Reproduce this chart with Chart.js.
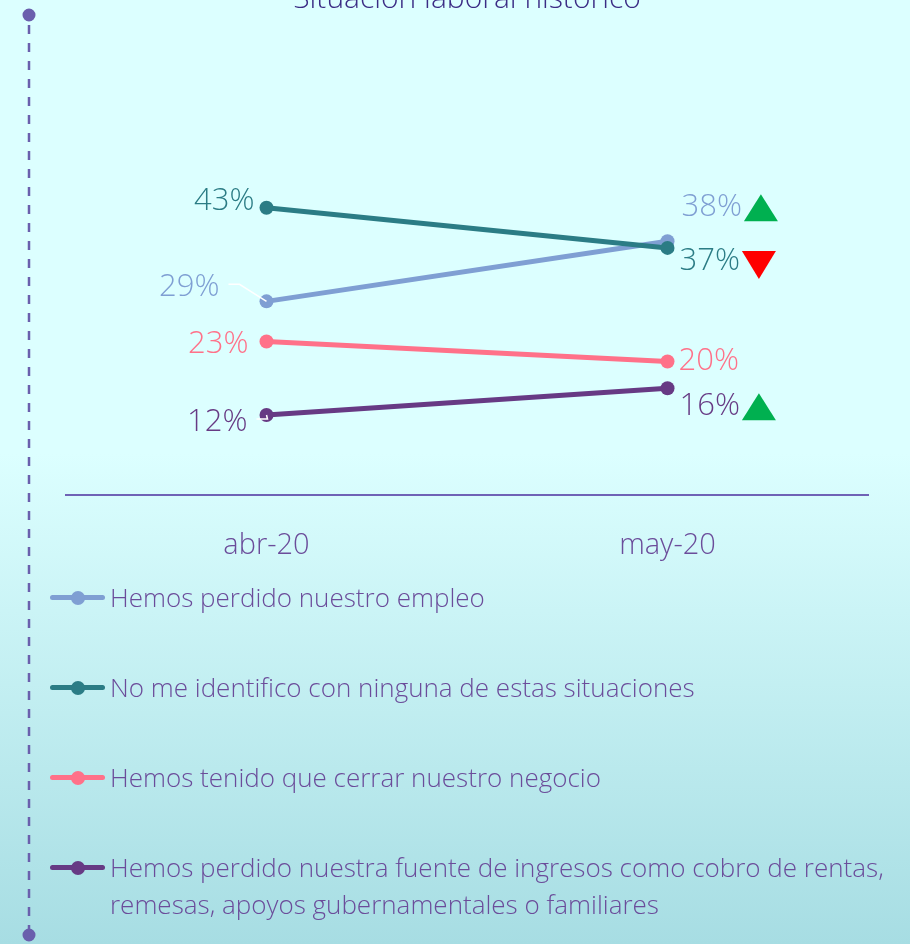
<!DOCTYPE html>
<html lang="es">
<head>
<meta charset="utf-8">
<title>Situación laboral histórico</title>
<script src="https://cdn.jsdelivr.net/npm/chart.js@4.4.1/dist/chart.umd.min.js"></script>
<style>
  html, body { margin: 0; padding: 0; }
  body {
    width: 910px; height: 944px; overflow: hidden; position: relative;
    background: linear-gradient(to bottom, #dcffff 0%, #dcffff 48%, #a7dde3 100%);
    font-family: 'Open Sans', sans-serif;
  }
  #contenedor { position: absolute; left: 0; top: -40px; width: 910px; height: 984px; }
  #leyenda {
    position: absolute; left: 50px; top: 579px; width: 850px;
    color: #6b4c9a; font-size: 26px; font-weight: 300; line-height: 37px;
  }
  .item { display: flex; align-items: flex-start; margin-bottom: 53px; }
  .marca { position: relative; width: 55px; height: 37px; flex: none; margin-right: 5px; }
  .marca .linea { position: absolute; left: 0; right: 0; top: 16px; height: 5px; border-radius: 3px; }
  .marca .punto { position: absolute; left: 21px; top: 11.5px; width: 14px; height: 14px; border-radius: 50%; }
  .texto { width: 785px; }
</style>
</head>
<body>
<div id="contenedor"><canvas id="grafico" width="910" height="984"></canvas></div>
<div id="leyenda"></div>
<script>
// meses (eje x)
var meses = ['abr-20', 'may-20'];

// nombres de las series
var series = [
  'Hemos perdido nuestro empleo',
  'No me identifico con ninguna de estas situaciones',
  'Hemos tenido que cerrar nuestro negocio',
  'Hemos perdido nuestra fuente de ingresos como cobro de rentas, remesas, apoyos gubernamentales o familiares'
];

// porcentajes por serie
var perdidoEmpleo = [29, 38];
var noIdentifico = [43, 37];
var cerrarNegocio = [23, 20];
var fuenteIngresos = [12, 16];

// flecha junto al ultimo valor (sube / baja / ninguna)
var tendencias = ['sube', 'baja', null, 'sube'];

var colores = ['#7f9fd3', '#2b7c85', '#ff7189', '#673a84'];

// desplazamiento de cada etiqueta respecto al punto [dx, dy, linea guia]
var desplazamientos = [
  [[-47, -14, true], [14, -34, false]],
  [[-12, -7, false], [12, 13, false]],
  [[-18, 3, false], [11, 0, false]],
  [[-19, 7, true], [12, 18, false]]
];

var DESFASE = 40; // el canvas empieza 40px por encima de la pagina

// linea punteada vertical a la izquierda
var lineaLateral = {
  id: 'lineaLateral',
  beforeDraw: function(chart) {
    var ctx = chart.ctx;
    ctx.save();
    ctx.strokeStyle = '#6a5fad';
    ctx.fillStyle = '#6a5fad';
    ctx.lineWidth = 2.5;
    ctx.setLineDash([9, 9]);
    ctx.beginPath();
    ctx.moveTo(29, 15 + DESFASE + 10);
    ctx.lineTo(29, 935 + DESFASE);
    ctx.stroke();
    ctx.setLineDash([]);
    ctx.beginPath();
    ctx.arc(29, 15 + DESFASE, 6.5, 0, Math.PI * 2);
    ctx.arc(29, 935 + DESFASE, 6.5, 0, Math.PI * 2);
    ctx.fill();
    ctx.restore();
  }
};

// etiquetas de porcentaje y flechas
var etiquetas = {
  id: 'etiquetas',
  afterDatasetsDraw: function(chart) {
    var ctx = chart.ctx;
    ctx.save();
    ctx.font = '300 31px "Open Sans"';
    ctx.textBaseline = 'middle';
    chart.data.datasets.forEach(function(ds, i) {
      var meta = chart.getDatasetMeta(i);
      meta.data.forEach(function(p, j) {
        var d = desplazamientos[i][j];
        var x = p.x + d[0];
        var y = p.y + d[1];
        var txt = ds.data[j] + '%';
        var ancho = ctx.measureText(txt).width;

        if (d[2]) {
          ctx.strokeStyle = '#ffffff';
          ctx.lineWidth = 1.5;
          ctx.beginPath();
          ctx.moveTo(x + 9, y - 3);
          ctx.lineTo(x + 20, y - 3);
          ctx.lineTo(p.x, p.y);
          ctx.stroke();
        }

        ctx.fillStyle = ds.borderColor;
        ctx.textAlign = j === 0 ? 'right' : 'left';
        ctx.fillText(txt, x, y);

        if (j === meses.length - 1 && tendencias[i]) {
          var tx = x + ancho + 2;
          ctx.beginPath();
          if (tendencias[i] === 'sube') {
            ctx.fillStyle = '#00b050';
            ctx.moveTo(tx, y + 14);
            ctx.lineTo(tx + 17, y - 13);
            ctx.lineTo(tx + 34, y + 14);
          } else {
            ctx.fillStyle = '#ff0000';
            ctx.moveTo(tx, y - 10);
            ctx.lineTo(tx + 34, y - 10);
            ctx.lineTo(tx + 17, y + 18);
          }
          ctx.closePath();
          ctx.fill();
        }
      });
    });
    ctx.restore();
  }
};

// leyenda en html a partir de los datasets
var leyendaHtml = {
  id: 'leyendaHtml',
  afterUpdate: function(chart) {
    var cont = document.getElementById('leyenda');
    cont.innerHTML = '';
    chart.data.datasets.forEach(function(ds) {
      var item = document.createElement('div');
      item.className = 'item';
      item.innerHTML = '<div class="marca"><div class="linea" style="background:' + ds.borderColor +
        '"></div><div class="punto" style="background:' + ds.borderColor + '"></div></div>' +
        '<div class="texto">' + ds.label + '</div>';
      cont.appendChild(item);
    });
  }
};

var valores = [perdidoEmpleo, noIdentifico, cerrarNegocio, fuenteIngresos];
var datasets = [];
for (var i = 0; i < series.length; i++) {
  datasets.push({
    label: series[i],
    data: valores[i],
    borderColor: colores[i],
    backgroundColor: colores[i],
    pointBackgroundColor: colores[i],
    borderWidth: 5,
    pointRadius: 7,
    pointHoverRadius: 7,
    pointBorderWidth: 0,
    fill: false,
    order: series.length - i
  });
}

var ctx = document.getElementById('grafico').getContext('2d');

var grafico = new Chart(ctx, {
  type: 'line',
  data: {
    labels: meses,
    datasets: datasets
  },
  plugins: [lineaLateral, etiquetas, leyendaHtml],
  options: {
    responsive: false,
    animation: false,
    layout: {
      padding: { left: 66, right: 42, bottom: 348, top: 0 }
    },
    scales: {
      x: {
        offset: true,
        grid: { display: false, drawTicks: false },
        border: { color: '#6f62b5', width: 2 },
        ticks: {
          color: '#6b4c9a',
          padding: 33,
          font: { family: 'Open Sans', size: 29, weight: 300 }
        }
      },
      y: {
        display: false,
        min: 0,
        max: 50
      }
    },
    plugins: {
      legend: { display: false },
      tooltip: { enabled: false },
      title: {
        display: true,
        fullSize: false,
        text: 'Situación laboral histórico',
        color: '#3b2c85',
        padding: { top: 21, bottom: 144 },
        font: { family: 'Open Sans', size: 30, weight: 300 }
      }
    }
  }
});
</script>
</body>
</html>
